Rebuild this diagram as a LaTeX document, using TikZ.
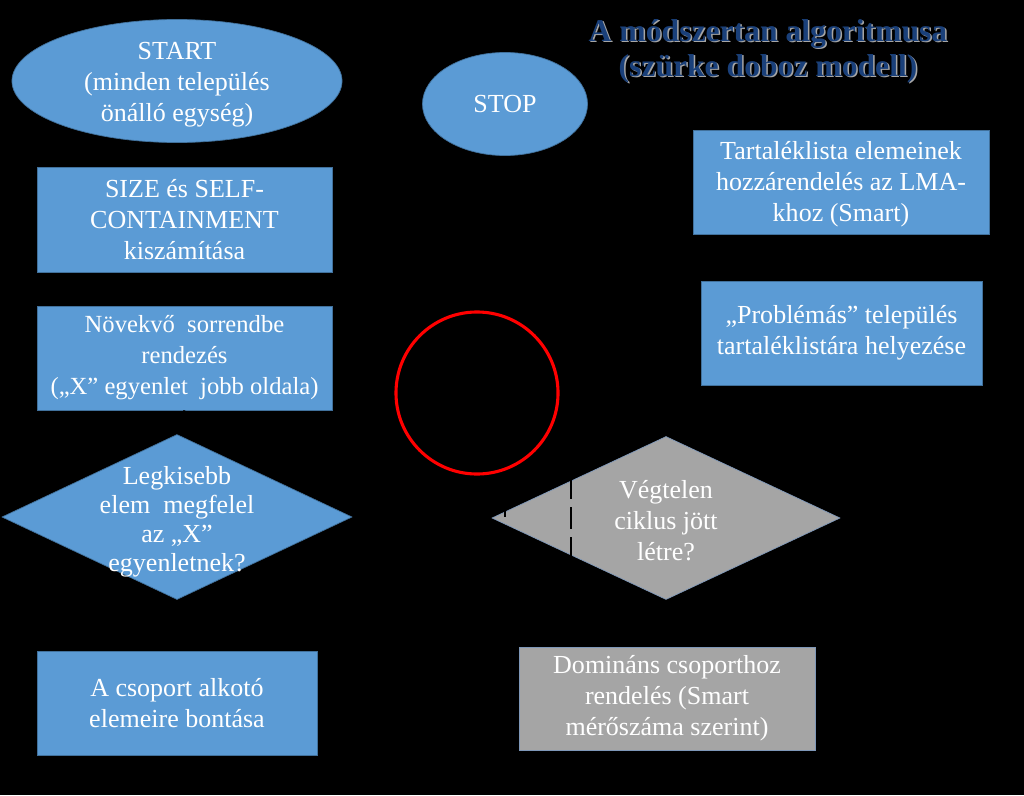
\documentclass[tikz,border=0pt]{standalone}
\usepackage{fontspec}
\setmainfont{Liberation Serif}
\usepackage{xcolor}
\usepackage{tikz}
\usetikzlibrary{shapes,arrows,calc}
\definecolor{blueFill}{HTML}{5B9BD5}
\definecolor{blueLine}{HTML}{41719C}
\definecolor{greyFill}{HTML}{A5A5A5}
\definecolor{greyLine}{HTML}{7E97B8}
\definecolor{titleBlue}{HTML}{1A407A}
\tikzstyle{tsText} = [
    text=white,
    font=\fontsize{18.5}{22}\selectfont,
    align=center
]
\tikzstyle{tsBox} = [
    rectangle,
    tsText,
    fill=blueFill,
    draw=blueLine,
    line width=0.5pt,
    inner sep=0pt]
\tikzstyle{tsGreyBox} = [
    tsBox,
    fill=greyFill,
    draw=greyLine]
\tikzstyle{tsOval} = [
    tsBox,
    ellipse]
\tikzstyle{tsDiamond} = [
    diamond,
    fill=blueFill,
    draw=blueLine,
    line width=0.5pt,
    inner sep=0pt]
\tikzstyle{tsLink} = [
    draw=black,
    line width=1.5pt]
\tikzstyle{tsTitle} = [
    font=\fontsize{22.5}{25}\selectfont\bfseries,
    align=center]

\begin{document}
\begin{tikzpicture}[x=0.025cm, y=-0.025cm]

        % background
        \fill[black] (0,0) rectangle (1024,795);
        \useasboundingbox (0,0) rectangle (1024,795);

        % title
        \node[tsTitle, text=gray!70] (titleshadow) at (769.5,52.5)
            {A módszertan algoritmusa\\(szürke doboz modell)};
        \node[tsTitle, text=titleBlue] (title) at (768,51)
            {A módszertan algoritmusa\\(szürke doboz modell)};

        % left column
        \node[tsOval, minimum width=8.25cm, minimum height=3.075cm] (start) at (177,81) {};
        \node[tsText] (starttext) at (177,85)
            {START\\(minden település\\önálló egység)};
        \node[tsBox, minimum width=7.375cm, minimum height=2.625cm] (size) at (184.5,219.5)
            {SIZE és SELF-\\CONTAINMENT\\kiszámítása};
        \node[tsBox, minimum width=7.375cm, minimum height=2.6cm,
              font=\fontsize{17.5}{22}\selectfont] (order) at (184.5,358)
            {Növekvő\ \ sorrendbe\\rendezés\\(„X” egyenlet\ \ jobb oldala)};
        \node[tsDiamond, minimum width=8.75cm, minimum height=4.125cm] (check) at (177,517) {};
        \node[tsText, font=\fontsize{18.5}{20.5}\selectfont] (checktext) at (177,522)
            {Legkisebb\\elem\ \ megfelel\\az „X”\\egyenletnek?};
        \node[tsBox, minimum width=7cm, minimum height=2.6cm] (split) at (177,703)
            {A csoport alkotó\\elemeire bontása};

        % middle column
        \node[tsOval, minimum width=4.125cm, minimum height=2.575cm] (stop) at (505,104) {STOP};
        \node[circle, draw=red, line width=2.2pt, minimum size=4.05cm] (ring) at (477,393) {};
        \node[tsDiamond, fill=greyFill, draw=greyLine, minimum width=8.7cm, minimum height=4.075cm] (loop) at (666,518) {};
        \node[tsText] (looptext) at (666,521)
            {Végtelen\\ciklus jött\\létre?};
        \node[tsGreyBox, minimum width=7.4cm, minimum height=2.575cm] (dominant) at (667,698.5)
            {Domináns csoporthoz\\rendelés (Smart\\mérőszáma szerint)};

        % right column
        \node[tsBox, minimum width=7.4cm, minimum height=2.6cm] (reserve) at (841,182)
            {\rule{0pt}{16pt}Tartaléklista elemeinek\\hozzárendelés az LMA-\\khoz (Smart)};
        \node[tsBox, minimum width=7.025cm, minimum height=2.6cm] (problem) at (841.5,333)
            {„Problémás” település\\tartaléklistára helyezése};

        % connectors (black on black)
        \coordinate (dashtop) at (571,447);
        \coordinate (back) at (505,517);
        \draw[tsLink] (order.south) -- (check.north);
        \draw[tsLink] (check.south) -- (split.north);
        \draw[tsLink] (loop.south) -- (dominant.north);
        \draw[tsLink, line width=2pt, dash pattern=on 0.55cm off 0.2cm] (dashtop) -- (dashtop |- dominant.north);
        \draw[tsLink, line width=1pt] (ring.south -| back) -- (back);

\end{tikzpicture}
\end{document}
